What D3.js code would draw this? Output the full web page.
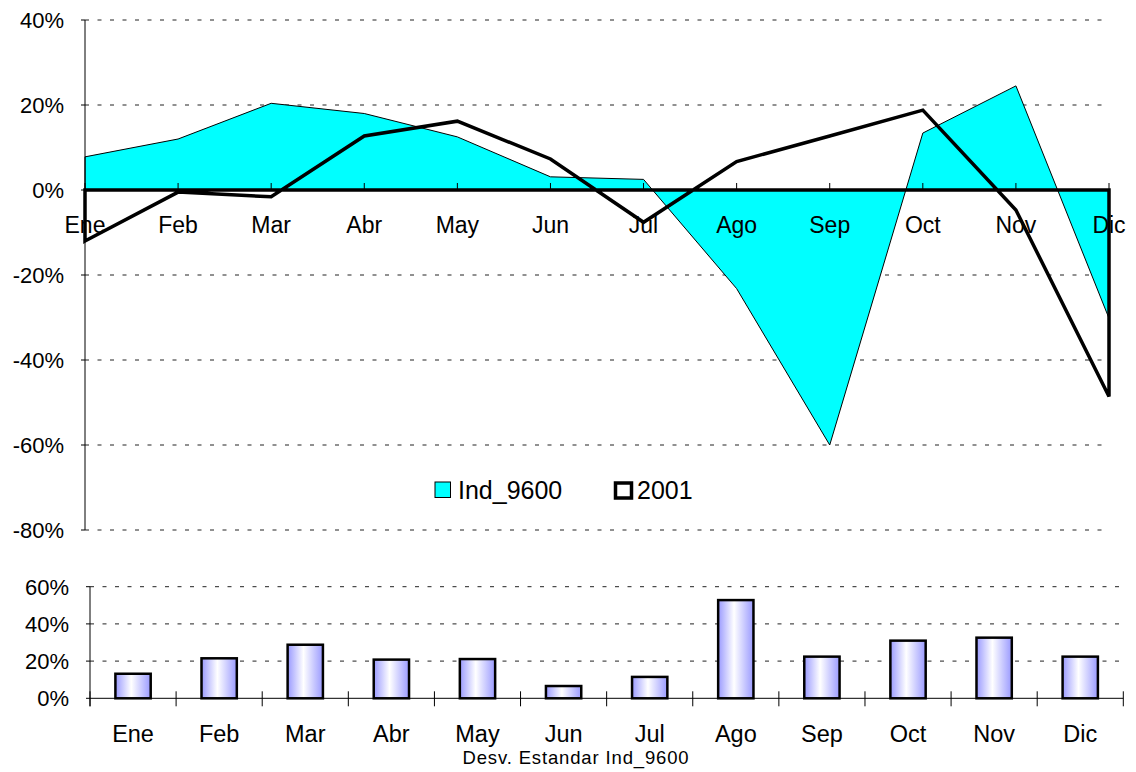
<!DOCTYPE html>
<html><head><meta charset="utf-8">
<script src="https://cdn.jsdelivr.net/npm/d3@7"></script>
<style>body{margin:0;background:#fff}svg{display:block;font-family:"Liberation Sans",Arial,sans-serif}</style>
</head><body>
<script>
const months = ["Ene","Feb","Mar","Abr","May","Jun","Jul","Ago","Sep","Oct","Nov","Dic"];
const ind9600 = [7.8, 12.0, 20.4, 18.0, 12.5, 3.1, 2.5, -23.2, -60.0, 13.4, 24.5, -30.2];
const y2001 = [-12.0, -0.5, -1.6, 12.7, 16.2, 7.3, -7.6, 6.7, 12.7, 18.8, -4.7, -48.6];
const desv = [13.2, 21.5, 28.8, 20.8, 21.1, 6.6, 11.5, 52.8, 22.4, 31.0, 32.6, 22.4];
const topTicks = [40, 20, 0, -20, -40, -60, -80];
const botTicks = [60, 40, 20, 0];
const seriesNames = ["Ind_9600", "2001"];
const bottomTitle = "Desv. Estandar Ind_9600";

const W = 1136, H = 772;
const svg = d3.select("body").append("svg").attr("width", W).attr("height", H);

// ---------- Top chart ----------
const x = d3.scalePoint().domain(months).range([85, 1109]);
const y = d3.scaleLinear().domain([-80, 40]).range([530, 20]);

svg.append("g").selectAll("line").data(topTicks.filter(d => d !== 0)).join("line")
  .attr("x1", 85).attr("x2", 1110).attr("y1", d => y(d)).attr("y2", d => y(d))
  .attr("stroke", "#222").attr("stroke-width", 1).attr("stroke-dasharray", "4,8.5");

const area = d3.area().x((d, i) => x(months[i])).y0(y(0)).y1(d => y(d));
svg.append("path").datum(ind9600).attr("d", area)
  .attr("fill", "#00FFFF").attr("stroke", "#000").attr("stroke-width", 1);

svg.append("g").selectAll("line").data(months).join("line")
  .attr("x1", d => x(d)).attr("x2", d => x(d)).attr("y1", y(0) - 7).attr("y2", y(0))
  .attr("stroke", "#000").attr("stroke-width", 1);

svg.append("line").attr("x1", 85).attr("x2", 85).attr("y1", y(40)).attr("y2", y(-80))
  .attr("stroke", "#000").attr("stroke-width", 1);
svg.append("g").selectAll("line").data(topTicks).join("line")
  .attr("x1", 81).attr("x2", 85).attr("y1", d => y(d)).attr("y2", d => y(d))
  .attr("stroke", "#000");
svg.append("g").selectAll("text").data(topTicks).join("text")
  .attr("x", 64).attr("y", d => y(d)).attr("dy", "0.36em").attr("text-anchor", "end")
  .attr("font-size", 22).text(d => d + "%");

svg.append("g").selectAll("text").data(months).join("text")
  .attr("x", d => x(d)).attr("y", 233).attr("text-anchor", "middle")
  .attr("font-size", 23).text(d => d);

svg.append("path").datum(y2001).attr("d", area)
  .attr("fill", "none").attr("stroke", "#000").attr("stroke-width", 3.5)
  .attr("stroke-linejoin", "miter");

// legend
const lg = svg.append("g");
lg.append("rect").attr("x", 435).attr("y", 482).attr("width", 15.5).attr("height", 15.5)
  .attr("fill", "#00FFFF").attr("stroke", "#000").attr("stroke-width", 1);
lg.append("text").attr("x", 458).attr("y", 498.5).attr("font-size", 25).text(seriesNames[0]);
lg.append("rect").attr("x", 615.5).attr("y", 483).attr("width", 16).attr("height", 15)
  .attr("fill", "#fff").attr("stroke", "#000").attr("stroke-width", 3.5);
lg.append("text").attr("x", 637).attr("y", 498.5).attr("font-size", 25).text(seriesNames[1]);

// ---------- Bottom chart ----------
const xb = d3.scaleBand().domain(months).range([90, 1123.3]).paddingInner(0.59).paddingOuter(0.295);
const yb = d3.scaleLinear().domain([0, 60]).range([698.3, 586.7]);
const step = xb.step();

const defs = svg.append("defs");
const grad = defs.append("linearGradient").attr("id", "bg").attr("x1", "0").attr("x2", "1").attr("y1", "0").attr("y2", "0");
grad.append("stop").attr("offset", "0%").attr("stop-color", "#9a9aff");
grad.append("stop").attr("offset", "45%").attr("stop-color", "#ffffff");
grad.append("stop").attr("offset", "100%").attr("stop-color", "#9a9aff");

svg.append("g").selectAll("line").data(botTicks.filter(d => d !== 0)).join("line")
  .attr("x1", 90).attr("x2", 1123).attr("y1", d => yb(d)).attr("y2", d => yb(d))
  .attr("stroke", "#222").attr("stroke-width", 1).attr("stroke-dasharray", "4,8.5");

svg.append("line").attr("x1", 90).attr("x2", 90).attr("y1", yb(60)).attr("y2", yb(0) + 8)
  .attr("stroke", "#000");
svg.append("line").attr("x1", 90).attr("x2", 1123.3).attr("y1", yb(0)).attr("y2", yb(0))
  .attr("stroke", "#000");
svg.append("g").selectAll("line").data(botTicks).join("line")
  .attr("x1", 86).attr("x2", 90).attr("y1", d => yb(d)).attr("y2", d => yb(d))
  .attr("stroke", "#000");
const bounds = months.map(m => xb(m) + xb.bandwidth() / 2 - step / 2).concat([xb(months[11]) + xb.bandwidth() / 2 + step / 2]);
svg.append("g").selectAll("line").data(bounds).join("line")
  .attr("x1", d => d).attr("x2", d => d).attr("y1", yb(0) - 7).attr("y2", yb(0) + 8)
  .attr("stroke", "#000");

svg.append("g").selectAll("rect").data(desv).join("rect")
  .attr("x", (d, i) => xb(months[i])).attr("width", xb.bandwidth())
  .attr("y", d => yb(d)).attr("height", d => yb(0) - yb(d))
  .attr("fill", "url(#bg)").attr("stroke", "#000").attr("stroke-width", 2.5);

svg.append("g").selectAll("text").data(botTicks).join("text")
  .attr("x", 69).attr("y", d => yb(d)).attr("dy", "0.36em").attr("text-anchor", "end")
  .attr("font-size", 22).text(d => d + "%");

svg.append("g").selectAll("text").data(months).join("text")
  .attr("x", d => xb(d) + xb.bandwidth() / 2).attr("y", 742).attr("text-anchor", "middle")
  .attr("font-size", 23.5).text(d => d);

svg.append("text").attr("x", 576).attr("y", 764).attr("text-anchor", "middle")
  .attr("font-size", 18.5).attr("letter-spacing", 0.85).text(bottomTitle);
</script>
</body></html>
